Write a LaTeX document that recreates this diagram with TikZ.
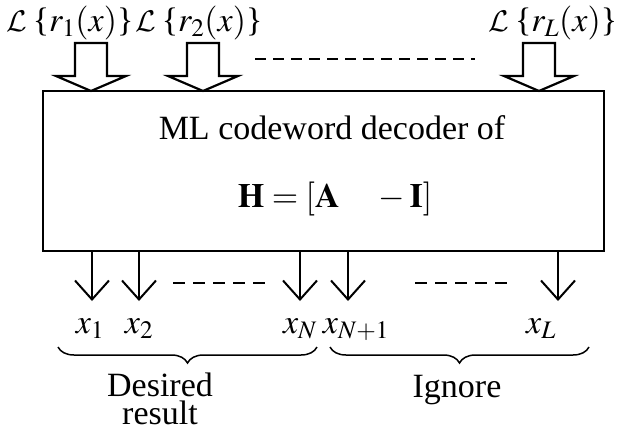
\documentclass[tikz,border=0pt]{standalone}
\usepackage{mathptmx}
\DeclareMathAlphabet{\mathcal}{OMS}{cmsy}{m}{n}
\usepackage{fontspec}
\setmainfont{Liberation Serif}
\usetikzlibrary{arrows.meta,decorations.pathreplacing}
\newcommand\LLab[1]{\scalebox{1.2}{$\mathcal{L}$}\,\{$#1$\}}
\tikzset{
  txt/.style={inner sep=0pt, anchor=base, font=\fontsize{34}{28}\selectfont},
  box/.style={draw, line width=2.4pt, minimum width=561pt, minimum height=160pt, inner sep=0pt},
  blk/.style={draw, line width=2.2pt, line join=miter},
  outarr/.style={line width=2pt, -{Straight Barb[length=19pt, width=34pt, line join=miter]}},
  dsh/.style={line width=2pt, dash pattern=on 11pt off 7pt},
  dshb/.style={line width=2pt, dash pattern=on 12pt off 8pt},
  brc/.style={line width=1.5pt, decorate, decoration={brace, amplitude=16pt, mirror}}
}
\newcommand\blockarrow[1]{%
  \draw[blk] (#1) ++(-16,-48) -- ++(0,33) -- ++(-19,0) -- ++(35,15) -- ++(35,-15)
    -- ++(-19,0) -- ++(0,-33) -- cycle;}
\begin{document}
\begin{tikzpicture}[x=1pt,y=-1pt]
\useasboundingbox (0,0) rectangle (617,434);
% input labels
\node[txt] (l1) at (70,31) {\LLab{r_1(x)}};
\node[txt] (l2) at (199,31) {\LLab{r_2(x)}};
\node[txt] (lL) at (553,31) {\LLab{r_L(x)}};
% decoder box
\node[box] (dec) at (323.5,171) {};
\node[txt] (t1) at (332,139) {ML codeword decoder of};
\node[txt] (t2) at (335,207) {$\mathbf{H} = [\mathbf{A}\quad - \mathbf{I}]$};
% block input arrows
\coordinate (i1) at (91,91);
\coordinate (i2) at (203,91);
\coordinate (iL) at (539,91);
\blockarrow{i1}
\blockarrow{i2}
\blockarrow{iL}
\coordinate (d1s) at (255,59);
\coordinate (d1e) at (475,59);
\draw[dsh] (d1s) -- (d1e);
% output arrows
\coordinate (s1) at (92,251);   \coordinate (e1) at (92,301);
\coordinate (s2) at (139,251);  \coordinate (e2) at (139,301);
\coordinate (sN) at (300,251);  \coordinate (eN) at (300,301);
\coordinate (sN1) at (348,251); \coordinate (eN1) at (348,301);
\coordinate (sL) at (558,251);  \coordinate (eL) at (558,301);
\draw[outarr] (s1) -- (e1);
\draw[outarr] (s2) -- (e2);
\draw[outarr] (sN) -- (eN);
\draw[outarr] (sN1) -- (eN1);
\draw[outarr] (sL) -- (eL);
\coordinate (d2s) at (173,283); \coordinate (d2e) at (270,283);
\coordinate (d3s) at (415,283); \coordinate (d3e) at (510,283);
\draw[dshb] (d2s) -- (d2e);
\draw[dshb] (d3s) -- (d3e);
% output labels
\node[txt] (x1) at (90,333) {$x_1$};
\node[txt] (x2) at (139,333) {$x_2$};
\node[txt] (xN) at (300,333) {$x_N$};
\node[txt] (xN1) at (356,333) {$x_{N+1}$};
\node[txt] (xL) at (541,333) {$x_L$};
% braces
\coordinate (b1s) at (58,347);  \coordinate (b1e) at (317,347);
\coordinate (b2s) at (330,347); \coordinate (b2e) at (589,347);
\draw[brc] (b1s) -- (b1e);
\draw[brc] (b2s) -- (b2e);
\node[txt, anchor=north, align=center] (des) at (160,373) {Desired\\result};
\node[txt] (ign) at (457,397) {Ignore};
\end{tikzpicture}
\end{document}
